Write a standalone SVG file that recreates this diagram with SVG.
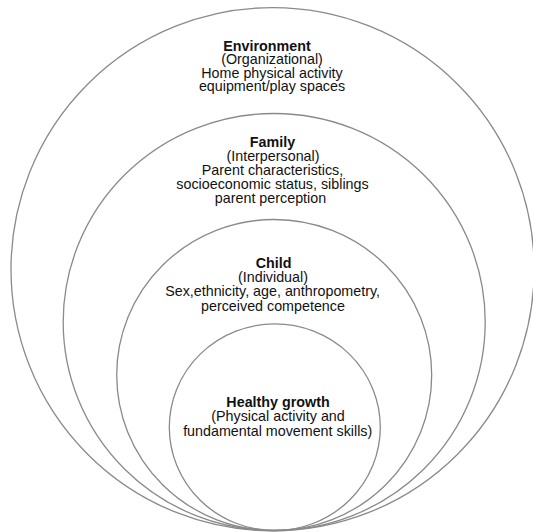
<svg xmlns="http://www.w3.org/2000/svg" width="533" height="532" viewBox="0 0 533 532">
<style>
.ring{fill:none;stroke:#8a8a8a;stroke-width:1.3}
text{font-family:"Liberation Sans",Arial,sans-serif;font-size:14.3px;fill:#111;text-anchor:middle}
.t{font-weight:bold}
</style>
<rect width="533" height="532" fill="#fff"/>
<g id="environment">
<ellipse class="ring" cx="272.6" cy="269.2" rx="261.6" ry="261.6"/>
<text class="t" x="267" y="50.5">Environment</text>
<text x="272" y="64">(Organizational)</text>
<text x="272" y="77.5">Home physical activity</text>
<text x="272" y="91">equipment/play spaces</text>
</g>
<g id="family">
<ellipse class="ring" cx="274.2" cy="322" rx="211" ry="208.5"/>
<text class="t" x="272.5" y="146.5">Family</text>
<text x="273" y="160.5">(Interpersonal)</text>
<text x="272.5" y="174.5">Parent characteristics,</text>
<text x="272.5" y="188.5">socioeconomic status, siblings</text>
<text x="270.5" y="202.5">parent perception</text>
</g>
<g id="child">
<ellipse class="ring" cx="274.2" cy="375" rx="157.5" ry="155.5"/>
<text class="t" x="273.5" y="267.5">Child</text>
<text x="273" y="281.8">(Individual)</text>
<text x="272.6" y="296.2">Sex,ethnicity, age, anthropometry,</text>
<text x="273" y="310.5">perceived competence</text>
</g>
<g id="healthy-growth">
<ellipse class="ring" cx="274.8" cy="427.2" rx="105.5" ry="103.3"/>
<text class="t" x="278" y="406.7">Healthy growth</text>
<text x="278" y="421.2">(Physical activity and</text>
<text x="277.7" y="435.6">fundamental movement skills)</text>
</g>
<g id="connectors"/>
</svg>
